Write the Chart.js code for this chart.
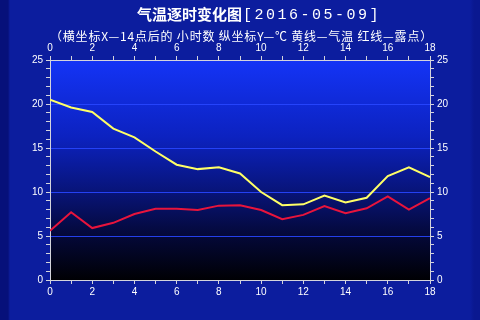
<!DOCTYPE html>
<html><head><meta charset="utf-8">
<script src="https://cdn.jsdelivr.net/npm/chart.js@4"></script>
<style>
html,body{margin:0;padding:0;width:480px;height:320px;overflow:hidden;}
body{background:linear-gradient(to right,#06107a 0px,#06107a 8px,#0c1d9e 10px,#0c1d9e 470px,#0a1890 474px);}
#wrap{position:absolute;left:0;top:0;width:480px;height:320px;}
</style></head>
<body><div id="wrap"><canvas id="c" width="480" height="320"></canvas></div>
<script>
const hours = [0,1,2,3,4,5,6,7,8,9,10,11,12,13,14,15,16,17,18];
const temperature = [20.5,19.6,19.1,17.2,16.2,14.6,13.1,12.6,12.8,12.1,10.0,8.5,8.6,9.6,8.8,9.35,11.8,12.8,11.7];
const dewPoint = [5.6,7.7,5.9,6.5,7.5,8.1,8.1,7.95,8.45,8.5,7.95,6.9,7.4,8.4,7.6,8.15,9.5,8.0,9.3];
const titleMain = '气温逐时变化图';
const titleDate = '[2016-05-09]';
const subtitle = '（横坐标X—14点后的 小时数 纵坐标Y—℃ 黄线—气温 红线—露点）';

const axisColor = '#d4d4dc';
const tickFont = {family:'"Liberation Sans", Arial, sans-serif', size:10};

const bgPlugin = {
  id:'bg',
  beforeDraw(chart){
    const {ctx, chartArea:a} = chart;
    const g = ctx.createLinearGradient(0,a.top,0,a.bottom);
    g.addColorStop(0,'#1434f6');
    g.addColorStop(0.35,'#0c22c0');
    g.addColorStop(0.6,'#081478');
    g.addColorStop(0.8,'#040838');
    g.addColorStop(1,'#000004');
    ctx.save();
    ctx.fillStyle = g;
    ctx.fillRect(a.left,a.top,a.right-a.left,a.bottom-a.top);
    ctx.restore();
  },
  afterDraw(chart){
    const ctx = chart.ctx;
    ctx.save();
    ctx.fillStyle = '#ffffff';
    ctx.textBaseline = 'middle';
    ctx.textAlign = 'left';
    ctx.font = 'bold 15px "Noto Sans CJK SC", sans-serif';
    ctx.fillText(titleMain, 137, 14);
    const w1 = ctx.measureText(titleMain).width;
    ctx.font = '15px "Liberation Mono", monospace';
    ctx.letterSpacing = '2.5px';
    ctx.fillText(titleDate, 137 + w1 + 1, 15);
    ctx.font = '12px "Noto Sans CJK SC", sans-serif';
    ctx.letterSpacing = '0px';
    const target = 383;
    const n = subtitle.length;
    const w2 = ctx.measureText(subtitle).width;
    ctx.letterSpacing = ((target - w2) / n).toFixed(2) + 'px';
    ctx.fillText(subtitle, 50, 36.5);
    ctx.restore();
  }
};

function xAxis(pos, h){
  return {
    type:'linear', position:pos, min:0, max:18,
    ticks:{stepSize:1, autoSkip:false, maxRotation:0, color:'#ffffff', font:tickFont, padding:2,
      callback:v => (v % 2 === 0 ? String(v) : '')},
    grid:{drawOnChartArea:false, tickLength:4, color:axisColor, tickColor:axisColor},
    border:{display:true, color:axisColor, width:1},
    afterFit(s){ s.height = h; }
  };
}
function yAxis(pos, w, grid){
  return {
    type:'linear', position:pos, min:0, max:25,
    ticks:{stepSize:1, autoSkip:false, color:'#ffffff', font:tickFont, padding:3,
      callback:v => (v % 5 === 0 ? String(v) : '')},
    grid:{drawOnChartArea:grid, tickLength:4, tickColor:axisColor,
      color:ctx => (ctx.tick && ctx.tick.value % 5 === 0 && ctx.tick.value > 0 && ctx.tick.value < 25) ? 'rgba(40,70,255,0.9)' : 'rgba(0,0,0,0)'},
    border:{display:true, color:axisColor, width:1},
    afterFit(s){ s.width = w; }
  };
}

new Chart(document.getElementById('c'), {
  type:'line',
  data:{
    datasets:[
      {label:'气温', data:hours.map((h,i)=>({x:h,y:temperature[i]})), borderColor:'#ffff66', borderWidth:2, pointRadius:0, tension:0, xAxisID:'x', yAxisID:'y'},
      {label:'露点', data:hours.map((h,i)=>({x:h,y:dewPoint[i]})), borderColor:'#e8143c', borderWidth:2, pointRadius:0, tension:0, xAxisID:'x', yAxisID:'y'}
    ]
  },
  options:{
    responsive:false, animation:false, devicePixelRatio:1,
    layout:{padding:0},
    plugins:{legend:{display:false}, tooltip:{enabled:false}, title:{display:false}},
    scales:{
      x: xAxis('bottom', 40),
      x2: xAxis('top', 60),
      y: yAxis('left', 50, true),
      y2: yAxis('right', 50, false)
    }
  },
  plugins:[bgPlugin]
});
</script></body></html>
